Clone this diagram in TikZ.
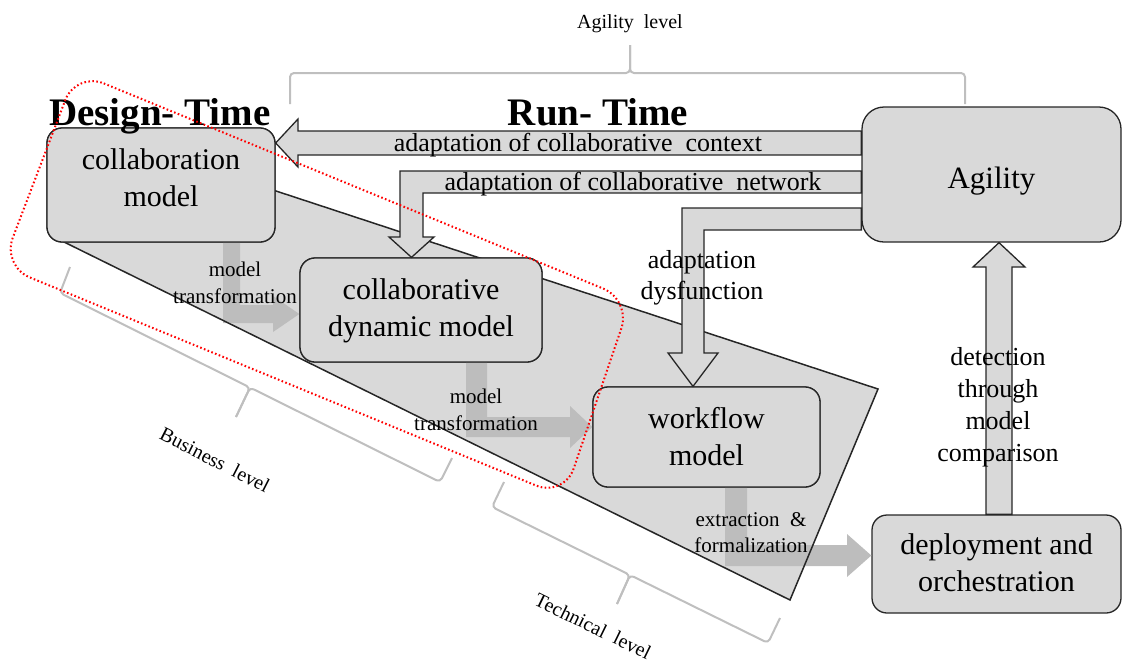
\documentclass[tikz,border=0pt]{standalone}
\usepackage{fontspec}
\setmainfont{Liberation Serif}
\usetikzlibrary{calc}
\definecolor{boxfill}{HTML}{D9D9D9}
\definecolor{mtgray}{HTML}{BDBDBD}
\definecolor{bracegray}{HTML}{BFBFBF}
\definecolor{edge}{HTML}{262626}
\begin{document}
\begin{tikzpicture}[x=1pt,y=-1pt,
  box/.style={draw=edge, line width=1.3pt, fill=boxfill, rounded corners=15pt, inner sep=0pt},
  boxtext/.style={align=center, font=\fontsize{30}{37}\selectfont, inner sep=0pt},
  arrtext/.style={align=center, font=\fontsize{26}{32}\selectfont, inner sep=0pt},
  smalltext/.style={align=center, font=\fontsize{21}{27}\selectfont, inner sep=0pt},
  lvltext/.style={font=\fontsize{20}{24}\selectfont, inner sep=0pt},
  titletext/.style={font=\fontsize{39}{44}\selectfont\bfseries, inner sep=0pt},
  blockarrow/.style={draw=edge, line width=1.3pt, fill=boxfill, line join=miter},
  mtarrow/.style={fill=mtgray, draw=none},
  bracket/.style={draw=bracegray, line width=2pt, rounded corners=4pt},
  region/.style={draw=red, line width=2pt, dash pattern=on 1.6pt off 2.4pt, rounded corners=30pt}
]
\useasboundingbox (0,0) rectangle (1122,662);

% level plane
\fill[boxfill] (200,166) -- (878,389) -- (790,600) -- (62,241) -- (100,200) -- cycle;

% brackets
\draw[bracket] (290,104) |- (630,73) -- (630,45);
\draw[bracket] (630,45) -- (630,73) -| (965,104);
\draw[bracket] (70,267) -- (60,293) -- (250,387.5) -- (236,417);
\draw[bracket] (236,417) -- (250,387.5) -- (440,482) -- (452,458);
\draw[bracket] (504,482) -- (492,507) -- (630,575) -- (617,604);
\draw[bracket] (617,604) -- (630,575) -- (768,643) -- (780,618);

% boxes
\node[box, minimum width=228pt, minimum height=114pt] (collab) at (161,185) {};
\node[box, minimum width=242pt, minimum height=104pt] (dyn) at (421,310) {};
\node[box, minimum width=227pt, minimum height=100pt] (work) at (706.5,437) {};
\node[box, minimum width=249pt, minimum height=98pt] (deploy) at (996.5,564) {};
\node[box, rounded corners=22pt, minimum width=259pt, minimum height=135pt] (agility) at (991.5,174.5) {};

% grey transformation arrows
\fill[mtarrow] (collab.south -| 223,0) -- (collab.south -| 240,0) -- (240,305) -- (273,305) -- (273,296)
  -- (dyn.west |- 0,314) -- (273,332) -- (273,323) -- (223,323) -- cycle;
\fill[mtarrow] (dyn.south -| 466,0) -- (dyn.south -| 487,0) -- (487,417) -- (570,417) -- (570,406)
  -- (work.west |- 0,427) -- (570,448) -- (570,437) -- (466,437) -- cycle;
\fill[mtarrow] (work.south -| 725,0) -- (work.south -| 747,0) -- (747,545) -- (847,545) -- (847,534)
  -- (deploy.west |- 0,555.5) -- (847,577) -- (847,566) -- (725,566) -- cycle;

% plane outline
\draw[edge, line width=1.5pt, line join=miter] (200,166) -- (878,389) -- (790,600) -- (62,241) -- (100,200) -- cycle;

% redraw boxes over plane outline
\node[box, minimum width=228pt, minimum height=114pt] at (collab) {};
\node[box, minimum width=242pt, minimum height=104pt] at (dyn) {};
\node[box, minimum width=227pt, minimum height=100pt] at (work) {};

% block arrows from Agility
\draw[blockarrow] (agility.west |- 0,131) -- (298,131) -- (298,119) -- (collab.east |- 0,143)
  -- (298,167) -- (298,155) -- (agility.west |- 0,155) -- cycle;
\draw[blockarrow] (agility.west |- 0,171) -- (400,171) -- (400,237) -- (389,237) -- (dyn.north -| 411.5,0)
  -- (434,237) -- (423,237) -- (423,193) -- (agility.west |- 0,193) -- cycle;
\draw[blockarrow] (agility.west |- 0,208) -- (682,208) -- (682,353) -- (668,353) -- (work.north -| 693,0)
  -- (718,353) -- (704,353) -- (704,230) -- (agility.west |- 0,230) -- cycle;
\draw[blockarrow] (deploy.north -| 986,0) -- (986,267) -- (973,267) -- (agility.south -| 999,0)
  -- (1025,267) -- (1012,267) -- (deploy.north -| 1012,0) -- cycle;

% texts
\node[titletext, anchor=base west] (dt) at (49,125) {Design- Time};
\node[titletext, anchor=base] (rt) at (598,125) {Run- Time};
\node[lvltext] (agl) at (630,24) {Agility\ \ level};
\node[lvltext, rotate=-27] (bus) at (215,460) {Business\ \ level};
\node[lvltext, rotate=-26] (tech) at (593,626) {Technical\ \ level};

\node[boxtext] (collabtxt) at (161,178) {collaboration\\model};
\node[boxtext] (dyntxt) at (421,311) {collaborative\\dynamic model};
\node[boxtext] (worktxt) at (706.5,436.5) {workflow\\model};
\node[boxtext] (deploytxt) at (996.5,563) {deployment and\\orchestration};
\node[boxtext, font=\fontsize{31}{37}\selectfont] (agilitytxt) at (991.5,181) {Agility};

\node[arrtext, anchor=base] (ctx) at (578,151) {adaptation of collaborative\ \ context};
\node[arrtext, anchor=base] (net) at (633,190) {adaptation of collaborative\ \ network};
\node[arrtext, font=\fontsize{26}{31}\selectfont] (dys) at (702,277.5) {adaptation\\dysfunction};
\node[arrtext] (det) at (998,407) {detection\\through\\model\\comparison};
\node[smalltext] (mt1) at (235,282.5) {model\\transformation};
\node[smalltext] (mt2) at (476,409.5) {model\\transformation};
\node[smalltext, font=\fontsize{21}{26}\selectfont] (ext) at (751,533) {extraction\ \ \&\\formalization};

% design-time region
\draw[region] (76,72) -- (631,300) -- (564,497) -- (2,266) -- cycle;
\end{tikzpicture}
\end{document}
